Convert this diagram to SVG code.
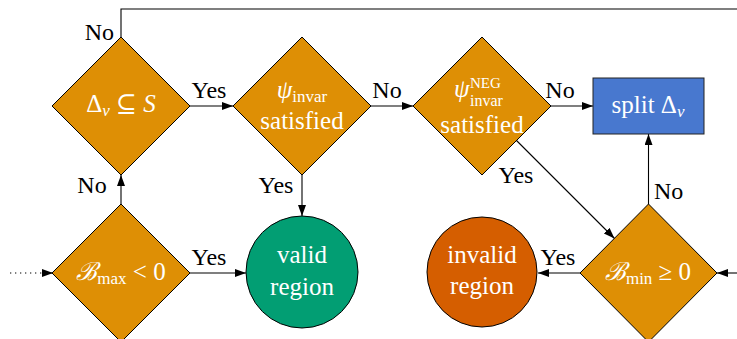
<svg xmlns="http://www.w3.org/2000/svg" width="737" height="339" viewBox="0 0 737 339">
<defs>
<style>
.dia{fill:#de8f05;stroke:#000;stroke-width:1}
.lbl{font-family:"Liberation Serif","DejaVu Serif",serif;font-size:24px;fill:#000}
.nt{font-family:"Liberation Serif","DejaVu Serif",serif;font-size:25px;fill:#fff;text-anchor:middle}
.st{text-anchor:start}
.it{font-style:italic}
.sub{font-size:17px}
.sub2{font-size:16px}
.sup{font-size:15px}
.conn{fill:none;stroke:#000;stroke-width:1.1}
</style>
<marker id="arr" markerUnits="userSpaceOnUse" markerWidth="12" markerHeight="9" refX="11" refY="4" orient="auto">
<path d="M0,0 L11,4 L0,8 z" fill="#000"/>
</marker>
</defs>
<rect width="737" height="339" fill="#fff"/>
<g id="connectors">
<polyline class="conn" points="121,37 121,9 737,9"/>
<line class="conn" x1="190" y1="106" x2="233" y2="106" marker-end="url(#arr)"/>
<line class="conn" x1="371" y1="106" x2="413" y2="106" marker-end="url(#arr)"/>
<line class="conn" x1="551" y1="106" x2="593" y2="106" marker-end="url(#arr)"/>
<line class="conn" x1="302" y1="175" x2="302" y2="216" marker-end="url(#arr)"/>
<line class="conn" x1="516.5" y1="140.5" x2="614.5" y2="238.5" marker-end="url(#arr)"/>
<line class="conn" x1="648.5" y1="204" x2="648.5" y2="134" marker-end="url(#arr)"/>
<line class="conn" x1="580" y1="273" x2="538" y2="273" marker-end="url(#arr)"/>
<line class="conn" x1="737" y1="273" x2="717" y2="273" marker-end="url(#arr)"/>
<line class="conn" x1="121" y1="204" x2="121" y2="175" marker-end="url(#arr)"/>
<line class="conn" x1="190" y1="273" x2="246" y2="273" marker-end="url(#arr)"/>
<line class="conn" x1="10" y1="273" x2="42" y2="273" stroke-dasharray="1.3 3.7"/>
<line class="conn" x1="42" y1="273" x2="53" y2="273" marker-end="url(#arr)"/>
<text class="lbl" x="114" y="40" text-anchor="end">No</text>
<text class="lbl" x="209" y="98" text-anchor="middle">Yes</text>
<text class="lbl" x="387" y="98" text-anchor="middle">No</text>
<text class="lbl" x="560" y="98" text-anchor="middle">No</text>
<text class="lbl" x="276" y="193" text-anchor="middle">Yes</text>
<text class="lbl" x="516" y="183" text-anchor="middle">Yes</text>
<text class="lbl" x="654" y="199">No</text>
<text class="lbl" x="558" y="265" text-anchor="middle">Yes</text>
<text class="lbl" x="92" y="193" text-anchor="middle">No</text>
<text class="lbl" x="209" y="265" text-anchor="middle">Yes</text>
</g>
<g id="subset">
<polygon class="dia" points="121,37 190,106 121,175 52,106"/>
<text class="nt" x="121" y="112">Δ<tspan class="it sub" dy="4">v</tspan><tspan dy="-4"> ⊆ </tspan><tspan class="it">S</tspan></text>
</g>
<g id="invar">
<polygon class="dia" points="302,37 371,106 302,175 233,106"/>
<text class="nt" x="302" y="98"><tspan class="it">ψ</tspan><tspan class="sub" dy="4">invar</tspan></text>
<text class="nt" x="302" y="129">satisfied</text>
</g>
<g id="neg">
<polygon class="dia" points="482,37 551,106 482,175 413,106"/>
<text class="nt st it" x="454" y="97">ψ</text>
<text class="nt st sup" x="470" y="88">NEG</text>
<text class="nt st sub2" x="470" y="106">invar</text>
<text class="nt" x="482" y="133">satisfied</text>
</g>
<g id="split">
<rect x="593" y="78" width="111" height="56" fill="#4878cf" stroke="#222" stroke-width="1"/>
<text class="nt" x="648" y="113">split Δ<tspan class="it sub" dy="4">v</tspan></text>
</g>
<g id="bmax">
<polygon class="dia" points="121,204 190,273 121,342 52,273"/>
<text class="nt" x="121" y="280"><tspan class="it">ℬ</tspan><tspan class="sub" dy="4">max</tspan><tspan dy="-4"> &lt; 0</tspan></text>
</g>
<g id="valid">
<circle cx="302" cy="272" r="56" fill="#029e73" stroke="#000" stroke-width="1"/>
<text class="nt" x="302" y="263">valid</text>
<text class="nt" x="302" y="295">region</text>
</g>
<g id="invalid">
<circle cx="482" cy="272" r="55" fill="#d55e00" stroke="#000" stroke-width="1"/>
<text class="nt" x="482" y="263">invalid</text>
<text class="nt" x="482" y="294">region</text>
</g>
<g id="bmin">
<polygon class="dia" points="648.5,204 717,273 648.5,342 580,273"/>
<text class="nt" x="648" y="280"><tspan class="it">ℬ</tspan><tspan class="sub" dy="4">min</tspan><tspan dy="-4"> ≥ 0</tspan></text>
</g>
</svg>
